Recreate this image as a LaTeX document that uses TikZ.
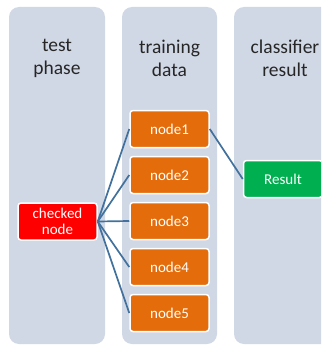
\documentclass[tikz,border=0pt]{standalone}
\usepackage{fontspec}
\setmainfont{Carlito}
\usetikzlibrary{positioning}
\definecolor{lanecolor}{RGB}{208,215,229}
\definecolor{trainorange}{RGB}{228,108,10}
\definecolor{checkred}{RGB}{255,0,0}
\definecolor{resultgreen}{RGB}{0,176,80}
\definecolor{linkblue}{RGB}{65,113,156}

\begin{document}
\begin{tikzpicture}[x=1pt, y=-1pt,
    lane/.style={fill=lanecolor, rounded corners=10pt},
    lanetitle/.style={align=center, text=black!85, font=\fontsize{19.5}{23}\selectfont},
    box/.style={rectangle, draw=white, line width=1.5pt, rounded corners=3pt, minimum width=79pt, minimum height=37pt, align=center, text=white, font=\fontsize{15}{16}\selectfont},
    trainbox/.style={box, fill=trainorange},
    link/.style={draw=linkblue, line width=1.7pt},
    node distance=7.5pt
]
    \useasboundingbox (0,0) rectangle (321,345);
    \clip (0,0) rectangle (321,345);

    % Lanes
    \fill[lane] (9,7) rectangle (105,344);
    \fill[lane] (122,7) rectangle (217,344);
    \fill[lane] (234,7) rectangle (340,344);

    % Lane titles
    \node[lanetitle] (testtitle) at (57,58.5) {test\\phase};
    \node[lanetitle] (traintitle) at (169.5,58.5) {training\\data};
    \node[lanetitle] (resulttitle) at (285,58.5) {classifier\\result};

    % Training data
    \node[trainbox] (node1) at (169.5,129) {node1};
    \node[trainbox, below=of node1] (node2) {node2};
    \node[trainbox, below=of node2] (node3) {node3};
    \node[trainbox, below=of node3] (node4) {node4};
    \node[trainbox, below=of node4] (node5) {node5};

    % Test phase
    \node[box, fill=checkred, font=\fontsize{15}{15.5}\selectfont] (checked) at (57.5,221.5) {checked\\node};

    % Classifier result
    \node[box, fill=resultgreen] (result) at (283,179) {Result};

    % Links
    \foreach \n in {1,...,5}
        \draw[link] (checked.east) -- (node\n.west);
    \draw[link] (node1.east) -- (result.west);

\end{tikzpicture}
\end{document}
